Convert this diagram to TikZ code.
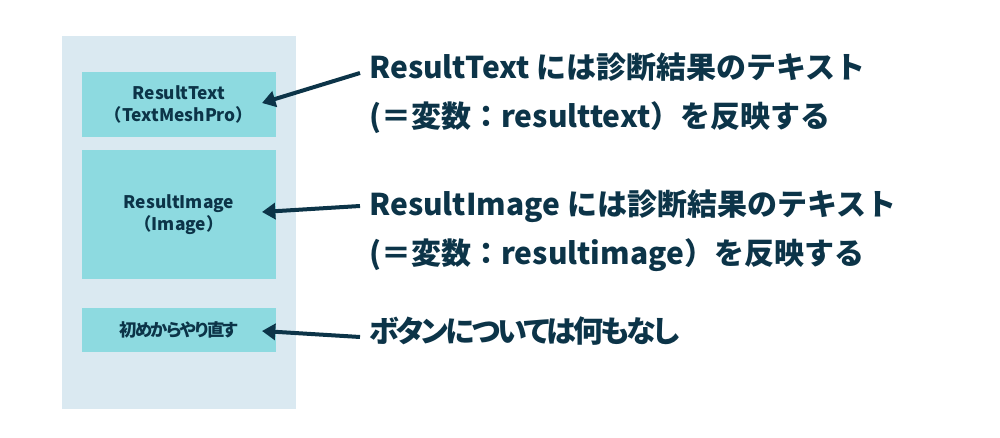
\documentclass[tikz,border=0pt]{standalone}
\usepackage{fontspec}
\setmainfont{Noto Sans CJK JP}
\newfontfamily\kanafont{Noto Sans CJK JP}[RawFeature=+palt, LetterSpace=-9]
\usetikzlibrary{arrows.meta, positioning}
\definecolor{panelblue}{RGB}{218,233,241}
\definecolor{boxteal}{RGB}{141,218,224}
\definecolor{navy}{RGB}{12,52,72}

\begin{document}
\begin{tikzpicture}[x=0.75pt, y=-0.75pt,
panelnode/.style={rectangle, fill=panelblue, minimum width=175.5pt, minimum height=279.75pt, inner sep=0pt},
boxnode/.style={rectangle, fill=boxteal, text=navy, minimum width=145.5pt, inner sep=0pt, align=center, font=\fontsize{13}{16.5}\selectfont\bfseries},
notenode/.style={anchor=base west, inner sep=0pt, text=navy, font=\fontsize{22.5}{26}\selectfont\bfseries},
pointer/.style={draw=navy, line width=3pt, -{Triangle[length=10pt, width=12pt]}},
]
\useasboundingbox (0,0) rectangle (1000,438);
%Nodes
\node[panelnode] (panel) at (179,222.5) {};
\node[boxnode, minimum height=48.4pt] (textbox) at (179,104.5) {ResultText\\（TextMeshPro）};
\node[boxnode, minimum height=96.75pt] (imagebox) [below=9.75pt of textbox] {ResultImage\\（Image）};
\node[boxnode, minimum height=32.6pt] (retrybox) [below=21.4pt of imagebox] {\kanafont 初めからやり直す};

\node[notenode] (textnote)   at (369,79)  {ResultText には診断結果のテキスト};
\node[notenode] (textvar)    at (369,128) {(＝変数：resulttext）を反映する};
\node[notenode] (imagenote)  at (369,216) {ResultImage には診断結果のテキスト};
\node[notenode] (imagevar)   at (369,265) {(＝変数：resultimage）を反映する};
\node[notenode] (retrynote)  at (369,343) {\kanafont ボタンについては何もなし};

\coordinate (textfrom)  at (360,73);
\coordinate (textto)    at (262,103);
\coordinate (imagefrom) at (360,206);
\coordinate (imageto)   at (262,212);
\coordinate (retryfrom) at (360,337);
\coordinate (retryto)   at (262,331);

%Lines
\draw[pointer] (textfrom) -- (textto);
\draw[pointer] (imagefrom) -- (imageto);
\draw[pointer] (retryfrom) -- (retryto);

\end{tikzpicture}
\end{document}
